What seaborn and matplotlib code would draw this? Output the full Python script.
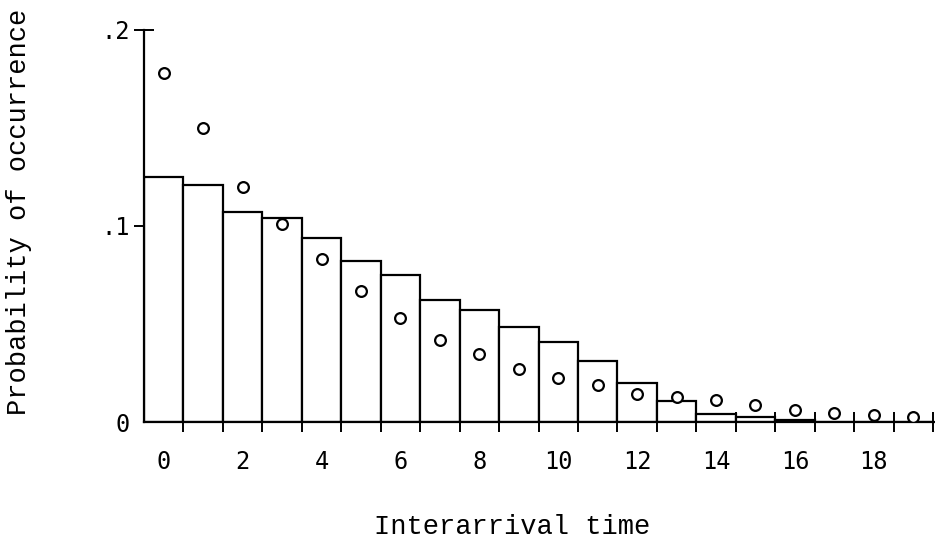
import numpy as np
import pandas as pd
import matplotlib
matplotlib.use("Agg")
import matplotlib.pyplot as plt
import seaborn as sns

# Interarrival times (bins) and probabilities
times = list(range(20))
observed = [0.125, 0.121, 0.107, 0.104, 0.094, 0.082, 0.075, 0.062, 0.057, 0.0485,
            0.041, 0.031, 0.020, 0.0105, 0.004, 0.0025, 0.001, 0.0, 0.0, 0.0]
theoretical = [0.178, 0.150, 0.120, 0.101, 0.083, 0.067, 0.053, 0.042, 0.0345, 0.027,
               0.0225, 0.019, 0.0145, 0.0126, 0.0112, 0.0087, 0.0062, 0.0046, 0.0034, 0.0028]

x_tick_values = [0, 2, 4, 6, 8, 10, 12, 14, 16, 18]
y_tick_values = [0.0, 0.1, 0.2]
y_tick_labels = ["0", ".1", ".2"]

df = pd.DataFrame({"time": times, "observed": observed, "theoretical": theoretical})

sns.set_style("white")
plt.rcParams.update({
    "text.color": "black",
    "axes.labelcolor": "black",
    "xtick.color": "black",
    "ytick.color": "black",
})
MONO = ["Liberation Mono", "DejaVu Sans Mono"]
TICKFONT = ["DejaVu Sans Mono"]

fig = plt.figure(figsize=(9.35, 5.40), dpi=100)
ax = fig.add_axes([0.154, 0.2185, 0.846, 0.726])

sns.barplot(data=df, x="time", y="observed", native_scale=True, width=1.0,
            color="white", edgecolor="black", linewidth=1.6, ax=ax)
sns.scatterplot(data=df, x="time", y="theoretical", marker="o", s=60,
                facecolor="white", edgecolor="black", linewidth=1.6, ax=ax, zorder=5)

ax.set_xlim(-0.5, 19.55)
ax.set_ylim(0, 0.2)

for side in ("top", "right"):
    ax.spines[side].set_visible(False)
for side in ("left", "bottom"):
    ax.spines[side].set_linewidth(1.6)
    ax.spines[side].set_color("black")

# x: labels at even bin centres, marks at bin edges
ax.set_xticks(x_tick_values)
ax.set_xticklabels([str(v) for v in x_tick_values], family=TICKFONT, fontsize=17,
                   color="black")
ax.set_xticks(np.arange(0.5, 20.0, 1.0), minor=True)
ax.tick_params(axis="x", which="both", bottom=True)
ax.tick_params(axis="x", which="major", length=0, pad=20)
ax.tick_params(axis="x", which="minor", direction="inout", length=14, width=1.4,
               color="black")

# y: ticks crossing the axis
ax.set_yticks(y_tick_values)
ax.set_yticklabels(y_tick_labels, family=TICKFONT, fontsize=17, color="black")
ax.tick_params(axis="y", which="major", left=True, direction="inout", length=14,
               width=1.4, color="black", pad=3)
ax.yaxis.get_major_ticks()[0].tick1line.set_visible(False)

ax.set_xlabel("Interarrival time", family=MONO, fontsize=19.5, color="black")
ax.set_ylabel("Probability of occurrence", family=MONO, fontsize=19.5, color="black")
ax.xaxis.set_label_coords(0.466, -0.235)
ax.yaxis.set_label_coords(-0.1416, 0.537)

fig.savefig("out.png", dpi=100, facecolor="white")
